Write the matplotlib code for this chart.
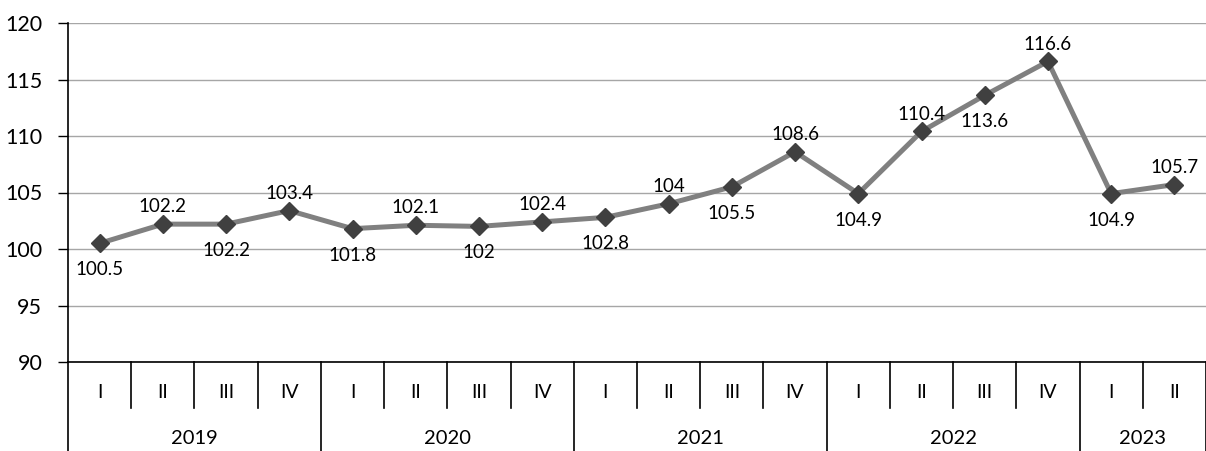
import matplotlib
matplotlib.use("Agg")
import matplotlib.pyplot as plt
import matplotlib.transforms as mtransforms

quarters = ["I", "II", "III", "IV", "I", "II", "III", "IV", "I", "II", "III", "IV",
            "I", "II", "III", "IV", "I", "II"]
years = ["2019", "2020", "2021", "2022", "2023"]
year_counts = [4, 4, 4, 4, 2]
values = [100.5, 102.2, 102.2, 103.4, 101.8, 102.1, 102, 102.4, 102.8, 104,
          105.5, 108.6, 104.9, 110.4, 113.6, 116.6, 104.9, 105.7]
label_above = [False, True, False, True, False, True, False, True, False, True,
               False, True, False, True, False, True, False, True]
yticks = [90, 95, 100, 105, 110, 115, 120]

plt.rcParams['font.family'] = ['Lato', 'DejaVu Sans']

W, H = 1206, 451
fig = plt.figure(figsize=(W / 100, H / 100), dpi=100)
ax = fig.add_axes([68 / W, 1 - 362 / H, 1 - 68 / W, (362 - 23) / H])

x = list(range(len(values)))
ax.plot(x, values, color="#808080", lw=3.6, zorder=3)
ax.plot(x, values, ls="none", marker="D", ms=9.5, color="#404040", zorder=4)

for xi, v, up in zip(x, values, label_above):
    txt = f"{v:g}"
    dy = 12.5 if up else -19
    ax.annotate(txt, (xi, v), xytext=(0, dy), textcoords="offset points",
                ha="center", va="center", fontsize=13.5, color="black", zorder=5)

ax.set_xlim(-0.5, len(values) - 0.5)
ax.set_ylim(90, 120)
ax.set_yticks(yticks)
ax.tick_params(axis="y", labelsize=15.5, length=7, width=1, pad=11.5, colors="black")
ax.yaxis.grid(True, color="#a6a6a6", lw=1)
ax.set_axisbelow(True)
ax.set_xticks([])
for s in ["top", "right"]:
    ax.spines[s].set_visible(False)
ax.spines["left"].set_color("black")
ax.spines["bottom"].set_color("black")
ax.spines["left"].set_linewidth(1.2)
ax.spines["bottom"].set_linewidth(1.2)

trans = mtransforms.blended_transform_factory(ax.transData, ax.transAxes)
axh = (362 - 23)
q_bottom = -(408 - 362) / axh
y_bottom = -(451 - 362) / axh
q_label_y = -(393 - 362) / axh
y_label_y = -(438 - 362) / axh

# quarter labels
for xi, q in zip(x, quarters):
    ax.text(xi, q_label_y, q, transform=trans, ha="center", va="center", fontsize=14)

# separators
year_edges = set()
pos = 0
for c in year_counts:
    year_edges.add(pos)
    pos += c
year_edges.add(pos)
for b in range(len(values) + 1):
    xb = b - 0.5
    yb = y_bottom if b in year_edges else q_bottom
    ax.plot([xb, xb], [0, yb], transform=trans, color="black", lw=1.2, clip_on=False)

# year labels
pos = 0
for yname, c in zip(years, year_counts):
    center = pos + (c - 1) / 2
    ax.text(center, y_label_y, yname, transform=trans, ha="center", va="center", fontsize=14.5)
    pos += c

fig.savefig("out.png", dpi=100)
